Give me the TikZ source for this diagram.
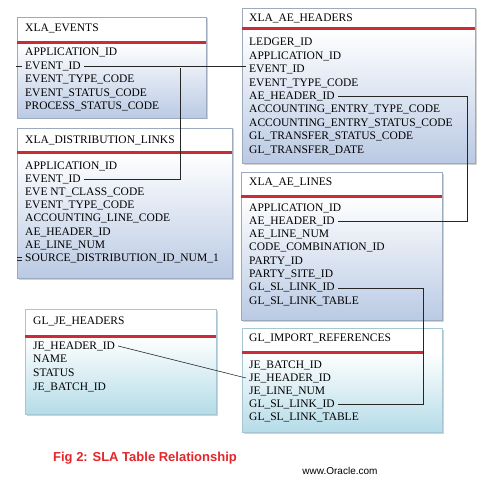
\documentclass[tikz,border=0pt]{standalone}
\usepackage{fontspec}
\setmainfont{Liberation Serif}
\newfontfamily\capfont{Liberation Sans}
\usetikzlibrary{shadows}
\definecolor{xlablue}{HTML}{BACAE4}
\definecolor{xlaedge}{HTML}{9DA9BD}
\definecolor{glblue}{HTML}{B5DCE8}
\definecolor{gledge}{HTML}{A5C6D2}
\definecolor{barred}{HTML}{CC2A36}
\definecolor{figred}{HTML}{E3262B}
\tikzset{
  tblbase/.style={fill=white,drop shadow={shadow xshift=1.5pt,shadow yshift=-1.5pt,fill=black!35}},
  xlafill/.style={top color=white,bottom color=xlablue},
  glfill/.style={top color=white,bottom color=glblue},
  xlaframe/.style={draw=xlaedge,line width=0.8pt},
  glframe/.style={draw=gledge,line width=0.8pt},
  redbar/.style={draw=barred,line width=3pt},
  tbltitle/.style={anchor=west,inner xsep=0pt,font=\fontsize{11.5}{13}\selectfont},
  field/.style={anchor=west,inner xsep=3pt,inner ysep=0pt,text height=8pt,text depth=2pt,font=\fontsize{11.5}{13}\selectfont},
  link/.style={draw=black!85,line width=0.6pt},
  figcap/.style={font=\capfont\bfseries\fontsize{13}{15}\selectfont,text=figred},
  source/.style={font=\capfont\fontsize{10}{12}\selectfont}
}
\begin{document}
\begin{tikzpicture}[x=1pt,y=-1pt]
\useasboundingbox (0,0) rectangle (497,481);
% XLA_EVENTS
\fill[tblbase] (17,17) rectangle (206,118);
\shade[xlafill] (17,43) rectangle (206,118);
\draw[xlaframe] (17,17) rectangle (206,118);
\draw[redbar] (17,43) -- (206,43);
\node[tbltitle] (ev) at (25,28) {XLA\_EVENTS};
\foreach \n/\t [count=\i from 0] in {appid/APPLICATION\_ID,eventid/EVENT\_ID,typecode/EVENT\_TYPE\_CODE,
    statuscode/EVENT\_STATUS\_CODE,procstatus/PROCESS\_STATUS\_CODE}
  \node[field] (ev-\n) at (22,53+13.4*\i) {\t};
% XLA_AE_HEADERS
\fill[tblbase] (242,8) rectangle (475,163);
\shade[xlafill] (242,29) rectangle (475,163);
\draw[xlaframe] (242,8) rectangle (475,163);
\draw[redbar] (242,29) -- (475,29);
\node[tbltitle] (aeh) at (249,18) {XLA\_AE\_HEADERS};
\foreach \n/\t [count=\i from 0] in {ledgerid/LEDGER\_ID,appid/APPLICATION\_ID,eventid/EVENT\_ID,
    typecode/EVENT\_TYPE\_CODE,headerid/AE\_HEADER\_ID,entrytype/ACCOUNTING\_ENTRY\_TYPE\_CODE,
    entrystatus/ACCOUNTING\_ENTRY\_STATUS\_CODE,glstatus/GL\_TRANSFER\_STATUS\_CODE,gldate/GL\_TRANSFER\_DATE}
  \node[field] (aeh-\n) at (246,43+13.4*\i) {\t};
% XLA_DISTRIBUTION_LINKS
\fill[tblbase] (17,128) rectangle (232,278);
\shade[xlafill] (17,153) rectangle (232,278);
\draw[xlaframe] (17,128) rectangle (232,278);
\draw[redbar] (17,153) -- (232,153);
\node[tbltitle] (dl) at (25,140) {XLA\_DISTRIBUTION\_LINKS};
\foreach \n/\t [count=\i from 0] in {appid/APPLICATION\_ID,eventid/EVENT\_ID,classcode/EVE NT\_CLASS\_CODE,
    typecode/EVENT\_TYPE\_CODE,linecode/ACCOUNTING\_LINE\_CODE,headerid/AE\_HEADER\_ID,
    linenum/AE\_LINE\_NUM,srcid/SOURCE\_DISTRIBUTION\_ID\_NUM\_1}
  \node[field] (dl-\n) at (22,166+13.2*\i) {\t};
% XLA_AE_LINES
\fill[tblbase] (241,172) rectangle (442,320);
\shade[xlafill] (241,196) rectangle (442,320);
\draw[xlaframe] (241,172) rectangle (442,320);
\draw[redbar] (241,196) -- (442,196);
\node[tbltitle] (ael) at (249,182) {XLA\_AE\_LINES};
\foreach \n/\t [count=\i from 0] in {appid/APPLICATION\_ID,headerid/AE\_HEADER\_ID,linenum/AE\_LINE\_NUM,
    ccid/CODE\_COMBINATION\_ID,partyid/PARTY\_ID,siteid/PARTY\_SITE\_ID,linkid/GL\_SL\_LINK\_ID,
    linktable/GL\_SL\_LINK\_TABLE}
  \node[field] (ael-\n) at (246,208+13.3*\i) {\t};
% GL_JE_HEADERS
\fill[tblbase] (25,309) rectangle (216,414);
\shade[glfill] (25,336) rectangle (216,414);
\draw[glframe] (25,309) rectangle (216,414);
\draw[redbar] (25,336) -- (216,336);
\node[tbltitle] (je) at (33,321) {GL\_JE\_HEADERS};
\foreach \n/\t [count=\i from 0] in {headerid/JE\_HEADER\_ID,name/NAME,status/STATUS,batchid/JE\_BATCH\_ID}
  \node[field] (je-\n) at (30,346+13.7*\i) {\t};
% GL_IMPORT_REFERENCES
\fill[tblbase] (242,328) rectangle (442,432);
\shade[glfill] (242,352) rectangle (442,432);
\draw[glframe] (242,328) rectangle (442,432);
\draw[redbar] (242,352) -- (423,352);
\node[tbltitle] (imp) at (249,338) {GL\_IMPORT\_REFERENCES};
\foreach \n/\t [count=\i from 0] in {batchid/JE\_BATCH\_ID,headerid/JE\_HEADER\_ID,linenum/JE\_LINE\_NUM,
    linkid/GL\_SL\_LINK\_ID,linktable/GL\_SL\_LINK\_TABLE}
  \node[field] (imp-\n) at (246,365+13*\i) {\t};
% relationships
\coordinate (evjoin) at (180,68);
\coordinate (hdrjoin) at (467,0);
\coordinate (linkjoin) at (423,0);
\draw[link] (ev-eventid.west) -- ++(-6,0);
\draw[link] (ev-eventid.east) -- (ev-eventid.east -| aeh-eventid.west);
\draw[link] (dl-eventid.east) -| (evjoin);
\draw[link] ([yshift=1.5pt]dl-srcid.west) -- ++(-5,0);
\draw[link] ([yshift=-1.5pt]dl-srcid.west) -- ++(-5,0);
\draw[link] (aeh-headerid.east) -| (hdrjoin |- ael-headerid.east) -- (ael-headerid.east);
\draw[link] (ael-linkid.east) -| (linkjoin |- imp-linkid.east) -- (imp-linkid.east);
\draw[link] (je-headerid.east) -- (imp-headerid.west);
% caption
\node[figcap] (cap) at (145,458) {Fig 2: SLA Table Relationship};
\node[source] (src) at (340,471) {www.Oracle.com};
\end{tikzpicture}
\end{document}
